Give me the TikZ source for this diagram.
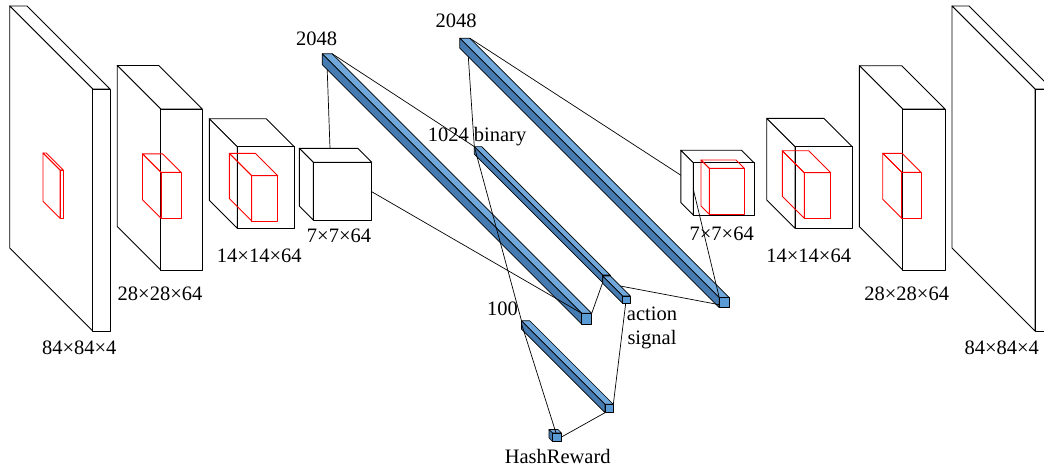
\documentclass[tikz,border=0pt]{standalone}
\usepackage{fontspec}
\setmainfont{Liberation Serif}
\usepackage{tikz}

\definecolor{barTop}{RGB}{112,168,220}
\definecolor{barSide}{RGB}{70,123,178}
\definecolor{barFront}{RGB}{91,155,213}

% cuboid: name, front-top-left x, y, width, height, depth, look
\newcommand{\cuboid}[7]{%
  \coordinate (#1-ftl) at (#2,#3);
  \coordinate (#1-ftr) at ({#2+#4},#3);
  \coordinate (#1-fbl) at (#2,{#3+#5});
  \coordinate (#1-fbr) at ({#2+#4},{#3+#5});
  \coordinate (#1-btl) at ({#2-#6},{#3-#6});
  \coordinate (#1-btr) at ({#2+#4-#6},{#3-#6});
  \coordinate (#1-bbl) at ({#2-#6},{#3+#5-#6});
  \draw[#7 top] (#1-ftl) -- (#1-ftr) -- (#1-btr) -- (#1-btl) -- cycle;
  \draw[#7 side] (#1-ftl) -- (#1-btl) -- (#1-bbl) -- (#1-fbl) -- cycle;
  \draw[#7 front] (#1-ftl) rectangle (#1-fbr);
}

\tikzset{
  layer top/.style={draw=black, fill=white, line width=0.9pt, line join=round},
  layer side/.style={layer top},
  layer front/.style={layer top},
  kernel top/.style={draw=red, line width=0.9pt, line join=round},
  kernel side/.style={kernel top},
  kernel front/.style={kernel top},
  fc top/.style={draw=black, fill=barTop, line width=0.7pt, line join=round},
  fc side/.style={draw=black, fill=barSide, line width=0.7pt, line join=round},
  fc front/.style={draw=black, fill=barFront, line width=0.7pt, line join=round},
  link/.style={draw=black, line width=0.7pt},
  dims/.style={anchor=base, inner sep=0pt, font=\fontsize{20.5}{24}\selectfont},
}

\begin{document}
\begin{tikzpicture}[x=1pt, y=-1pt]
    \useasboundingbox (0,0) rectangle (1044,466);
    \clip (0,0) rectangle (1044,466);

    % encoder
    \cuboid{in}{92.7}{89}{17.3}{242}{83}{layer}
    \cuboid{inK}{60}{170}{3.3}{48.3}{17}{kernel}
    \cuboid{cA}{160.7}{109}{41.6}{161}{43.5}{layer}
    \cuboid{cAK}{161}{172.3}{20}{46}{18.5}{kernel}
    \cuboid{cB}{237.3}{146.7}{57}{81.6}{28}{layer}
    \cuboid{cBK}{251.7}{175.7}{26}{45.3}{22.3}{kernel}
    \cuboid{cC}{313.3}{162.3}{58.4}{57.7}{14}{layer}

    % dense layers
    \cuboid{fcA}{581.7}{313.3}{10}{10.7}{259.5}{fc}
    \cuboid{bin}{602.7}{275}{7.5}{7.5}{128.4}{fc}
    \cuboid{act}{622.7}{296}{7.6}{7.3}{20}{fc}
    \cuboid{fcD}{605}{404.3}{8.3}{8.4}{83.5}{fc}
    \cuboid{hash}{552.5}{433}{9}{8.5}{3.5}{fc}
    \cuboid{fcB}{719.3}{297.7}{10}{10}{259.5}{fc}

    % decoder
    \cuboid{dC}{693.3}{162.7}{60.7}{52.3}{12.5}{layer}
    \cuboid{dCK}{709.3}{168.3}{35}{46}{8.3}{kernel}
    \cuboid{dB}{795}{146.7}{57.3}{81.6}{28.3}{layer}
    \cuboid{dBK}{804.3}{172.7}{26.4}{45.6}{22}{kernel}
    \cuboid{dA}{902.7}{109}{42.3}{161}{43.3}{layer}
    \cuboid{dAK}{901.7}{172.3}{19.3}{46}{19}{kernel}
    \cuboid{out}{1035}{89}{17}{242}{83}{layer}

    % connections
    \draw[link] ([shift={(30.7,0)}]cC-btl) -- ([shift={(5,5)}]fcA-bbl);
    \draw[link] ([shift={(0,29.4)}]cC-ftr) -- (fcA-ftl);
    \draw[link] (fcA-btr) -- (bin-btl);
    \draw[link] (fcA-ftr) -- (bin-fbl);
    \draw[link] ([shift={(8.5,8.5)}]fcB-bbl) -- (bin-btl);
    \draw[link] (bin-btl) -- (fcD-btl);
    \draw[link] ([shift={(0,3)}]fcD-btl) -- ([shift={(3.5,0)}]hash-ftl);
    \draw[link] (fcD-fbl) -- ([shift={(0,4)}]hash-ftr);
    \draw[link] ([shift={(3,0)}]act-fbl) -- (fcD-ftr);
    \draw[link] ([shift={(10,10)}]act-btr) -- ([shift={(0,7)}]fcB-ftl);
    \draw[link] (fcB-btr) -- ([shift={(0,25)}]dC-btl);
    \draw[link] ([shift={(0,26.6)}]dC-ftl) -- (fcB-ftl);

    % labels
    \node[dims] (inL) at (79.2,354) {84×84×4};
    \node[dims] (cAL) at (160,300) {28×28×64};
    \node[dims] (cBL) at (259.3,262.7) {14×14×64};
    \node[dims] (cCL) at (339,242.7) {7×7×64};
    \node[dims] (fcAL) at (316.7,45) {2048};
    \node[dims] (fcBL) at (456,27.3) {2048};
    \node[dims] (binL) at (477,141.7) {1024 binary};
    \node[dims] (fcDL) at (502.5,315.7) {100};
    \node[dims] (actL) at (652,320.7) {action};
    \node[dims] (actL2) at (652,344.3) {signal};
    \node[dims] (hashL) at (557.7,463) {HashReward};
    \node[dims] (dCL) at (721.7,240.7) {7×7×64};
    \node[dims] (dBL) at (808.7,262.7) {14×14×64};
    \node[dims] (dAL) at (906.7,300) {28×28×64};
    \node[dims] (outL) at (1001.7,354) {84×84×4};
\end{tikzpicture}
\end{document}
